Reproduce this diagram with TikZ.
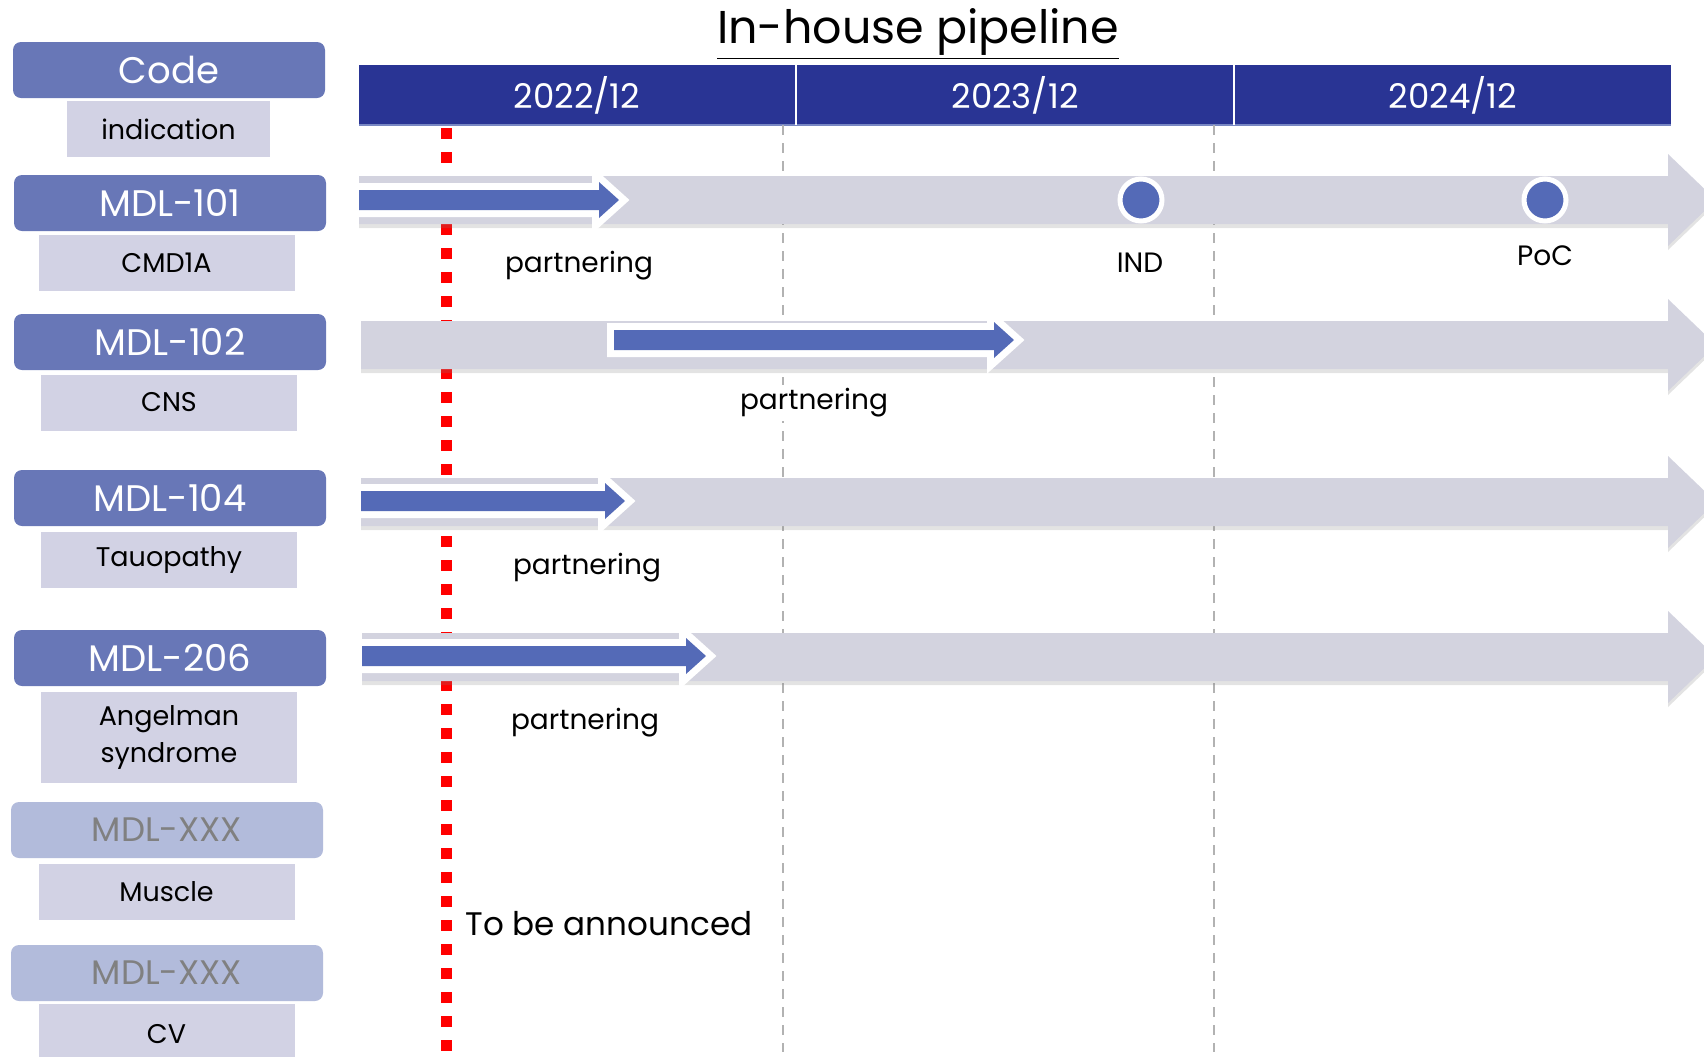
\documentclass[tikz,border=0pt]{standalone}
\usepackage{fontspec}
\setmainfont{Poppins}
\usetikzlibrary{shadows}

\definecolor{navy}{RGB}{41,52,148}
\definecolor{headline}{RGB}{120,135,195}
\definecolor{codeblue}{RGB}{104,119,183}
\definecolor{codelight}{RGB}{178,187,219}
\definecolor{lavender}{RGB}{210,210,228}
\definecolor{band}{RGB}{211,211,223}
\definecolor{progblue}{RGB}{84,106,183}

\tikzset{
  codebox/.style={fill=codeblue, rounded corners=4pt, minimum width=156pt, minimum height=28pt,
    inner sep=0pt, text=white, font=\fontsize{18.5}{18.5}\selectfont},
  codeboxlight/.style={codebox, fill=codelight, text=gray, font=\fontsize{17}{17}\selectfont},
  indbox/.style={fill=lavender, minimum width=128pt, minimum height=28pt, inner sep=0pt,
    align=center, font=\fontsize{13.5}{18.5}\selectfont},
  lbl/.style={inner sep=2pt, font=\fontsize{14}{16}\selectfont},
  yearlbl/.style={text=white, font=\fontsize{17}{17}\selectfont},
  milestone/.style={circle, fill=progblue, draw=white, line width=2.5pt, minimum size=21pt, inner sep=0pt},
}

\begin{document}
\begin{tikzpicture}[x=0.5pt,y=-0.5pt]
\useasboundingbox (0,0) rectangle (1704,1056);
\clip (0,0) rectangle (1704,1056);

    %title
    \node[font=\fontsize{23}{23}\selectfont] (title) at (918,34) {\underline{In-house pipeline}};

    %header
    \fill[navy] (359,65) rectangle (1671,125);
    \draw[headline, line width=1pt] (359,125) -- (1671,125);
    \foreach \x in {796,1234}
        \draw[white, line width=0.8pt] (\x,65) -- (\x,125);
    \node[yearlbl] (y1) at (577,95) {2022/12};
    \node[yearlbl] (y2) at (1015,95) {2023/12};
    \node[yearlbl] (y3) at (1453,95) {2024/12};

    %year ticks
    \foreach \x in {783,1214}
        \draw[black!30, line width=1pt, dash pattern=on 5pt off 4pt] (\x,125) -- (\x,1052);

    %now
    \draw[red, line width=5.5pt, dash pattern=on 5.5pt off 6.5pt] (446,128) -- (446,1060);

    %rows
    \foreach \x/\y in {359/200, 361/345, 361/502, 362/657}
        \fill[band, drop shadow={shadow xshift=0pt, shadow yshift=-2pt, opacity=0.22}]
            (\x,\y-24) -- (1668,\y-24) -- (1668,\y-46) -- (1716,\y) -- (1668,\y+46)
            -- (1668,\y+24) -- (\x,\y+24) -- cycle;

    %progress
    \foreach \a/\b/\y in {359/619/200, 614/1014/340, 361/625/501, 362/706/656}
        \fill[progblue, preaction={draw=white, line width=7pt, line join=miter}]
            (\a,\y-10) -- (\b-20,\y-10) -- (\b-20,\y-18) -- (\b,\y) -- (\b-20,\y+18)
            -- (\b-20,\y+10) -- (\a,\y+10) -- cycle;

    %milestones
    \node[milestone] (ind) at (1141,200) {};
    \node[milestone] (poc) at (1545,200) {};

    %labels
    \node[lbl] (p1) at (579,266) {partnering};
    \node[lbl] (l1) at (1140,263) {IND};
    \node[lbl, fill=white, minimum width=48pt] (l2) at (1545,256) {PoC};
    \node[lbl, fill=white, minimum width=92pt] (p2) at (814,403) {partnering};
    \node[lbl] (p3) at (587,568) {partnering};
    \node[lbl] (p4) at (585,723) {partnering};
    \node[lbl, font=\fontsize{16.3}{18}\selectfont] (tba) at (609,924) {To be announced};

    %left column
    \node[codebox] (c0) at (169,70) {Code};
    \node[indbox, minimum width=101.5pt] (i0) at (168.5,129) {indication};
    \node[codebox] (c1) at (170,203) {MDL-101};
    \node[indbox] (i1) at (166.5,263) {CMD1A};
    \node[codebox] (c2) at (170,342) {MDL-102};
    \node[indbox] (i2) at (169,402.5) {CNS};
    \node[codebox] (c3) at (170,498) {MDL-104};
    \node[indbox] (i3) at (169,560) {Tauopathy};
    \node[codebox] (c4) at (170,658) {MDL-206};
    \node[indbox, minimum height=45.5pt] (i4) at (169,737) {Angelman\\syndrome};
    \node[codeboxlight] (c5) at (167,830) {MDL-XXX};
    \node[indbox] (i5) at (166.5,892) {Muscle};
    \node[codeboxlight] (c6) at (167,973) {MDL-XXX};
    \node[indbox, minimum height=30pt] (i6) at (166.5,1034) {CV};
\end{tikzpicture}
\end{document}
